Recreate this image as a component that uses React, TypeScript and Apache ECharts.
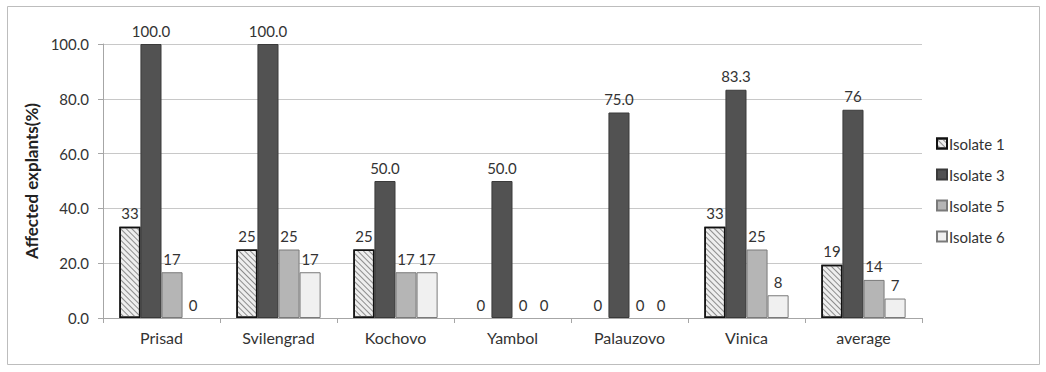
import React, { useEffect, useRef } from "react";
import * as echarts from "echarts";

const categories = ["Prisad", "Svilengrad", "Kochovo", "Yambol", "Palauzovo", "Vinica", "average"];
const seriesNames = ["Isolate 1", "Isolate 3", "Isolate 5", "Isolate 6"];
const isolate1 = [33.3, 25, 25, 0, 0, 33.3, 19.4];
const isolate3 = [100, 100, 50, 50, 75, 83.3, 76];
const isolate5 = [16.7, 25, 16.7, 0, 0, 25, 13.9];
const isolate6 = [0, 16.7, 16.7, 0, 0, 8.3, 7.1];
const yTicks = [0, 20, 40, 60, 80, 100];

const FONT = "Lato, 'Liberation Sans', sans-serif";

// zero-height bars draw no outline
const toItems = (values: number[]) =>
  values.map((v) => (v === 0 ? { value: v, itemStyle: { borderWidth: 0 } } : v));

export default function App() {
  const ref = useRef<HTMLDivElement>(null);

  useEffect(() => {
    if (!ref.current) return;
    const chart = echarts.init(ref.current, null, { renderer: "svg" });

    const intLabel = {
      show: true,
      position: "top" as const,
      distance: 6,
      color: "#333",
      fontSize: 15,
      fontFamily: FONT,
      formatter: (p: any) => Math.round(p.value).toString(),
    };

    const isolate3Label = {
      ...intLabel,
      formatter: (p: any) =>
        p.dataIndex === categories.length - 1
          ? Math.round(p.value).toString()
          : Number(p.value).toFixed(1),
    };

    chart.setOption({
      animation: false,
      backgroundColor: "#fff",
      graphic: [
        {
          type: "rect",
          shape: { x: 7.5, y: 6.5, width: 1032, height: 358 },
          style: { fill: "none", stroke: "#bdbdbd", lineWidth: 1 },
          silent: true,
        },
      ],
      grid: { left: 103, right: 124, top: 44, bottom: 54 },
      legend: {
        orient: "vertical",
        left: 931,
        top: 131,
        itemWidth: 10,
        itemHeight: 10,
        itemGap: 16,
        icon: "rect",
        textStyle: { fontSize: 15, color: "#333", fontFamily: FONT, padding: [0, 0, 0, -3] },
        data: seriesNames,
      },
      xAxis: {
        type: "category",
        data: categories,
        axisLine: { lineStyle: { color: "#a6a6a6" } },
        axisTick: { show: true, alignWithLabel: false, length: 5, lineStyle: { color: "#a6a6a6" } },
        axisLabel: { color: "#333", fontSize: 16, fontFamily: FONT, margin: 11 },
      },
      yAxis: {
        type: "value",
        min: 0,
        max: 100,
        interval: 20,
        name: "Affected explants(%)",
        nameLocation: "middle",
        nameGap: 58,
        nameTextStyle: { fontSize: 17, fontWeight: "bold", color: "#222", fontFamily: FONT },
        axisLine: { show: true, lineStyle: { color: "#a6a6a6" } },
        axisTick: { show: true, length: 5, lineStyle: { color: "#a6a6a6" } },
        splitLine: { lineStyle: { color: "#c8c8c8" } },
        axisLabel: {
          color: "#333",
          fontSize: 15,
          fontFamily: FONT,
          margin: 14,
          formatter: (v: number) => (yTicks.includes(v) ? v.toFixed(1) : ""),
        },
      },
      series: [
        {
          name: seriesNames[0],
          type: "bar",
          data: toItems(isolate1),
          barCategoryGap: "28%",
          barGap: "0%",
          itemStyle: {
            color: "#eeeeee",
            borderColor: "#111",
            borderWidth: 1.5,
            decal: {
              symbol: "rect",
              color: "#8c8c8c",
              backgroundColor: "#f2f2f2",
              dashArrayX: [1, 0],
              dashArrayY: [1, 2.5],
              rotation: Math.PI / 4,
            },
          },
          label: intLabel,
        },
        {
          name: seriesNames[1],
          type: "bar",
          data: toItems(isolate3),
          barGap: "0%",
          itemStyle: { color: "#525252", borderColor: "#3a3a3a", borderWidth: 1 },
          label: isolate3Label,
        },
        {
          name: seriesNames[2],
          type: "bar",
          data: toItems(isolate5),
          barGap: "0%",
          itemStyle: { color: "#b5b5b5", borderColor: "#7a7a7a", borderWidth: 1 },
          label: intLabel,
        },
        {
          name: seriesNames[3],
          type: "bar",
          data: toItems(isolate6),
          barGap: "0%",
          itemStyle: { color: "#f0f0f0", borderColor: "#7a7a7a", borderWidth: 1 },
          label: intLabel,
        },
      ],
    });

    return () => chart.dispose();
  }, []);

  return (
    <div
      ref={ref}
      style={{ position: "fixed", left: 0, top: 0, width: 1046, height: 372 }}
    />
  );
}
